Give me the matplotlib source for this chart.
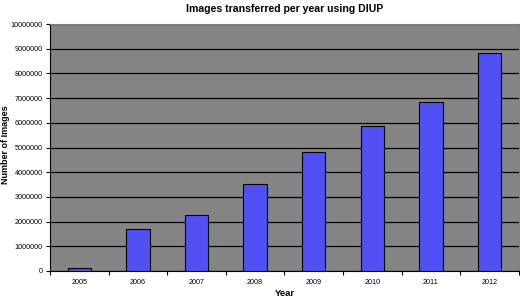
import numpy as np
import matplotlib.pyplot as plt

plt.rcParams['font.family'] = ['Liberation Sans', 'DejaVu Sans']

years = ['2005', '2006', '2007', '2008', '2009', '2010', '2011', '2012']
images = [100000, 1690000, 2270000, 3510000, 4830000, 5870000, 6850000, 8850000]

fig = plt.figure(figsize=(5.2, 2.98), dpi=100)
ax = fig.add_axes([0.096, 0.091, 0.902, 0.828])
ax.set_facecolor('#858585')

x = np.arange(len(years))
ax.bar(x, images, width=0.4, color='#5050F5', edgecolor='black', linewidth=0.8, zorder=3)

ax.set_xlim(-0.5, len(years) - 0.5)
ax.set_ylim(0, 10000000)
ax.set_yticks(np.arange(0, 10000001, 1000000))
ax.set_yticklabels([str(v) for v in range(0, 10000001, 1000000)], fontsize=5.2)
ax.yaxis.grid(True, color='black', linewidth=0.9, zorder=1)
ax.set_axisbelow(True)

ax.set_xticks(x)
ax.set_xticklabels(years, fontsize=5.2)
ax.set_xticks(np.arange(-0.5, len(years), 1), minor=True)
ax.tick_params(axis='x', which='major', length=0, pad=6)
ax.tick_params(axis='x', which='minor', length=3, width=0.8, direction='out')
ax.tick_params(axis='y', length=3, width=0.8, pad=2)

for s in ['top', 'right']:
    ax.spines[s].set_color('#808080')
ax.spines['left'].set_linewidth(0.8)
ax.spines['bottom'].set_linewidth(0.8)

ax.set_title('Images transferred per year using DIUP', fontsize=7.6, fontweight='bold', pad=9)
ax.set_xlabel('Year', fontsize=6.8, fontweight='bold', labelpad=2)
# y label sits close to the left edge, as in the original
fig.text(6 / 520, 0.515, 'Number of Images', rotation=90, ha='center', va='center',
         fontsize=6.5, fontweight='bold')

fig.savefig('out.png', dpi=100)
